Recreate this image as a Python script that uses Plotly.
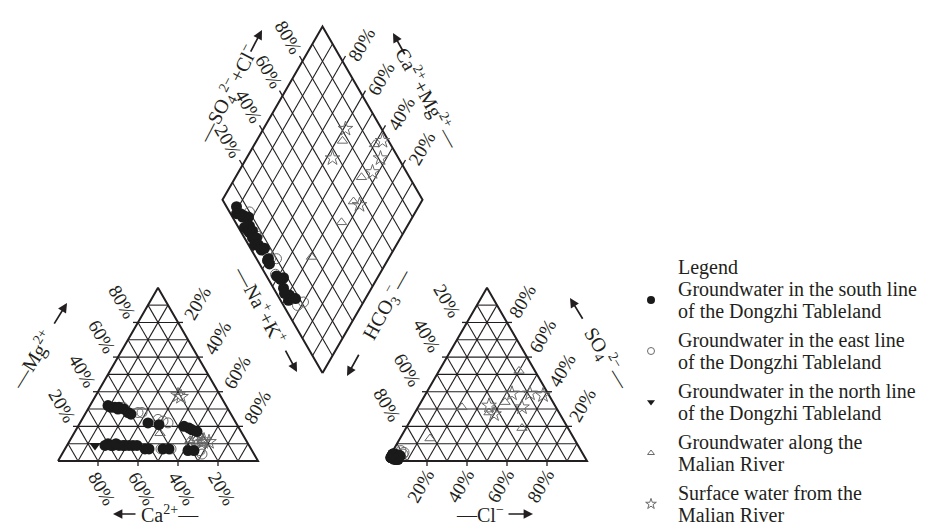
import math
import plotly.graph_objects as go

# ---------------- sample chemistry (meq %) ----------------
# Groundwater, south line of the Dongzhi Tableland
south_ca = [59, 58, 56, 55, 54, 52, 51, 50, 44, 39, 27, 25, 24, 22,
            72, 70, 69, 68, 66, 65, 63, 62, 60, 58, 56, 53, 51, 44, 41, 32, 29]
south_mg = [32, 31, 31, 30, 31, 30, 28, 27, 22, 21, 20, 19, 18, 17,
            9, 10, 9, 9, 10, 9, 9, 9, 9, 9, 9, 7, 7, 7, 7, 6, 6]
south_cl = [2, 1, 4, 3, 1, 5, 4, 1, 3, 2, 5, 3, 1, 5,
            1, 4, 1, 2, 5, 1, 3, 1, 4, 2, 5, 1, 3, 2, 4, 3, 5]
south_so4 = [3, 2, 1, 3, 4, 3, 2, 4, 2, 4, 3, 2, 3, 1,
             2, 1, 3, 2, 1, 3, 3, 2, 1, 3, 2, 4, 2, 3, 2, 1, 3]

# Groundwater, east line of the Dongzhi Tableland
east_ca = [46, 44, 38, 36, 34, 45, 40, 26, 26, 52]
east_mg = [28, 28, 24, 23, 22, 7, 7, 6, 4, 31]
east_cl = [4, 3, 5, 4, 6, 3, 4, 5, 6, 4]
east_so4 = [3, 4, 2, 3, 4, 2, 3, 2, 5, 6]

# Groundwater, north line of the Dongzhi Tableland
north_ca = [77]
north_mg = [9]
north_cl = [2]
north_so4 = [2]

# Groundwater along the Malian River
river_gw_ca = [28, 41, 24, 22, 24, 30]
river_gw_mg = [12, 16, 13, 12, 10, 9]
river_gw_cl = [40, 58, 42, 37, 22, 15]
river_gw_so4 = [52, 19, 34, 28, 31, 13]

# Surface water from the Malian River
surface_ca = [21, 20, 25, 22, 21, 19]
surface_mg = [38, 37, 12, 11, 12, 11]
surface_cl = [43, 35, 59, 52, 52, 40]
surface_so4 = [39, 32, 38, 39, 31, 27]

tick_values = [20, 40, 60, 80]

# ---------------- Piper geometry ----------------
W, HGT = 933, 526
H = math.sqrt(3) / 2
GAP = 0.645                          # gap between the two base triangles
RIGHT_X0 = 1 + GAP                   # left corner of the anion triangle
DIA_BX, DIA_BY = 1 + GAP / 2, 0.44   # bottom corner of the diamond
INK = "#231f20"
FONT = "Liberation Serif, Times New Roman, serif"


def cation_xy(ca, mg):
    na = 100 - ca - mg
    return (na + mg / 2) / 100, mg / 100 * H


def anion_xy(cl, so4):
    return RIGHT_X0 + (cl + so4 / 2) / 100, so4 / 100 * H


def diamond_xy(camg, so4cl):
    return (DIA_BX + 0.5 * (so4cl - camg) / 100,
            DIA_BY + H * (camg + so4cl) / 100)


def project(ca, mg, cl, so4):
    cx, cy, ax, ay, dx, dy = [], [], [], [], [], []
    for a, m, c, s in zip(ca, mg, cl, so4):
        x, y = cation_xy(a, m); cx.append(x); cy.append(y)
        x, y = anion_xy(c, s); ax.append(x); ay.append(y)
        x, y = diamond_xy(a + m, c + s); dx.append(x); dy.append(y)
    return cx + [None] + ax + [None] + dx, cy + [None] + ay + [None] + dy


fig = go.Figure()

# ---------------- grid and frames ----------------
gx, gy = [], []   # thin grid
fx, fy = [], []   # frames
tx, ty = [], []   # tick marks


def seg(xs, ys, p, q):
    xs += [p[0], q[0], None]
    ys += [p[1], q[1], None]


for x0 in (0.0, RIGHT_X0):
    for i in range(1, 10):
        k = i / 10
        seg(gx, gy, (x0 + k / 2, k * H), (x0 + 1 - k / 2, k * H))
        seg(gx, gy, (x0 + k, 0), (x0 + k + (1 - k) / 2, (1 - k) * H))
        seg(gx, gy, (x0 + 1 - k, 0), (x0 + (1 - k) / 2, (1 - k) * H))
    fx += [x0, x0 + 1, x0 + 0.5, x0, None]
    fy += [0, 0, H, 0, None]
    for v in tick_values:
        k = v / 100
        t = 0.025
        seg(tx, ty, (x0 + k, 0), (x0 + k, -t))
        seg(tx, ty, (x0 + k / 2, k * H), (x0 + k / 2 - t, k * H))
        seg(tx, ty, (x0 + 1 - k / 2, k * H), (x0 + 1 - k / 2 + t, k * H))

for i in range(1, 10):
    k = i * 10
    seg(gx, gy, diamond_xy(k, 0), diamond_xy(k, 100))
    seg(gx, gy, diamond_xy(0, k), diamond_xy(100, k))
corners = [diamond_xy(0, 0), diamond_xy(100, 0), diamond_xy(100, 100),
           diamond_xy(0, 100), diamond_xy(0, 0)]
fx += [c[0] for c in corners] + [None]
fy += [c[1] for c in corners] + [None]
for v in tick_values:
    seg(tx, ty, diamond_xy(100, v), diamond_xy(103, v))
    seg(tx, ty, diamond_xy(v, 100), diamond_xy(v, 103))

fig.add_trace(go.Scatter(x=gx, y=gy, mode="lines", hoverinfo="skip",
                         line=dict(color=INK, width=1.1), showlegend=False))
fig.add_trace(go.Scatter(x=tx, y=ty, mode="lines", hoverinfo="skip",
                         line=dict(color=INK, width=1.3), showlegend=False))
fig.add_trace(go.Scatter(x=fx, y=fy, mode="lines", hoverinfo="skip",
                         line=dict(color=INK, width=2), showlegend=False))

# ---------------- samples ----------------
GREY = "#6a6a6a"
series = [
    ("Groundwater along the Malian River", river_gw_ca, river_gw_mg, river_gw_cl, river_gw_so4,
     dict(symbol="triangle-up-open", size=9, color=GREY, line=dict(width=1, color=GREY))),
    ("Surface water from the Malian River", surface_ca, surface_mg, surface_cl, surface_so4,
     dict(symbol="star-open", size=11, color=GREY, line=dict(width=1, color=GREY))),
    ("Groundwater in the east line", east_ca, east_mg, east_cl, east_so4,
     dict(symbol="circle-open", size=10, color=GREY, line=dict(width=1, color=GREY))),
    ("Groundwater in the south line", south_ca, south_mg, south_cl, south_so4,
     dict(symbol="circle", size=11, color="#1a1a1a", line=dict(width=0))),
    ("Groundwater in the north line", north_ca, north_mg, north_cl, north_so4,
     dict(symbol="triangle-down", size=10, color="#1a1a1a", line=dict(width=0))),
]
for name, ca, mg, cl, so4, mk in series:
    xs, ys = project(ca, mg, cl, so4)
    fig.add_trace(go.Scatter(x=xs, y=ys, mode="markers", name=name,
                             marker=mk, showlegend=False))

# ---------------- tick labels ----------------
ann = []


def label(x, y, text, dx, dy, angle, size=19):
    ann.append(dict(x=x, y=y, xref="x", yref="y", text=text, showarrow=False,
                    xshift=dx, yshift=-dy, textangle=angle,
                    font=dict(family=FONT, size=size, color=INK)))


for v in tick_values:
    k = v / 100
    t = f"{v}%"
    # cation triangle
    label(1 - k, 0, t, 4, 27, 60)                       # Ca2+
    label(k / 2, k * H, t, -16, -21, 60)                # Mg2+
    label(0.5 + k / 2, (1 - k) * H, t, 19, -19, -60)    # Na+ + K+
    # anion triangle
    label(RIGHT_X0 + k, 0, t, -7, 25, -60)              # Cl-
    label(RIGHT_X0 + (1 - k) / 2, (1 - k) * H, t, -20, -22, 60)  # HCO3-
    label(RIGHT_X0 + 1 - k / 2, k * H, t, 15, -21, -60)  # SO4 2-
    # diamond
    x, y = diamond_xy(100, v)
    label(x, y, t, -14, -24, 60)                        # SO4 + Cl
    x, y = diamond_xy(v, 100)
    label(x, y, t, 19, -17, -60)                        # Ca + Mg


# ---------------- axis titles with arrows ----------------
def to_paper(px, py):
    return px / W, 1 - py / HGT


def title(start, end, text, arrow_at_end, size=20, arrow_len=26):
    (sx, sy), (ex, ey) = start, end
    length = math.hypot(ex - sx, ey - sy)
    ux, uy = (ex - sx) / length, (ey - sy) / length
    if arrow_at_end:
        tip = (ex, ey)
        tail = (ex - arrow_len * ux, ey - arrow_len * uy)
        t0, t1 = (sx, sy), (ex - (arrow_len + 3) * ux, ey - (arrow_len + 3) * uy)
    else:
        tip = (sx, sy)
        tail = (sx + arrow_len * ux, sy + arrow_len * uy)
        t0, t1 = (sx + (arrow_len + 3) * ux, sy + (arrow_len + 3) * uy), (ex, ey)
    cx, cy = to_paper((t0[0] + t1[0]) / 2, (t0[1] + t1[1]) / 2)
    ang = math.degrees(math.atan2(uy, ux))
    ann.append(dict(x=cx, y=cy, xref="paper", yref="paper", text=text,
                    showarrow=False, textangle=ang, xanchor="center",
                    yanchor="middle", font=dict(family=FONT, size=size, color=INK)))
    px_, py_ = to_paper(*tip)
    ann.append(dict(x=px_, y=py_, xref="paper", yref="paper", text="",
                    showarrow=True, ax=tail[0] - tip[0], ay=tail[1] - tip[1],
                    arrowhead=2, arrowsize=1.1, arrowwidth=1.7,
                    arrowcolor=INK, standoff=0, startstandoff=0))


title((208, 133), (262, 30), "—SO<sub>4</sub><sup>2−</sup>+Cl<sup>−</sup>", True)
title((393, 33), (450, 136), "Ca<sup>2+</sup>+Mg<sup>2+</sup>—", False)
title((238, 262), (297, 372), "—Na<sup>+</sup>+K<sup>+</sup>", True)
title((347, 376), (413, 257), "HCO<sub>3</sub><sup>−</sup>—", False)
title((12, 392), (67, 303), "—Mg<sup>2+</sup>", True)
title((113, 514), (200, 514), "Ca<sup>2+</sup>—", False, arrow_len=24)
title((455, 514), (533, 514), "—Cl<sup>−</sup>", True, arrow_len=26)
title((570, 298), (628, 393), "SO<sub>4</sub><sup>2−</sup>—", False)

# ---------------- legend ----------------
legend_items = [
    ("Groundwater in the south line", "of the Dongzhi Tableland"),
    ("Groundwater in the east line", "of the Dongzhi Tableland"),
    ("Groundwater in the north line", "of the Dongzhi Tableland"),
    ("Groundwater along the", "Malian River"),
    ("Surface water from the", "Malian River"),
]
legend_marks = [series[3][5], series[2][5], series[4][5], series[0][5], series[1][5]]


def ltext(px, py, text, size=20):
    x, y = to_paper(px, py)
    ann.append(dict(x=x, y=y, xref="paper", yref="paper",
                    text=text, showarrow=False, xanchor="left", yanchor="middle",
                    font=dict(family=FONT, size=size, color=INK)))


ltext(676, 267, "Legend")
for i, ((l1, l2), mk) in enumerate(zip(legend_items, legend_marks)):
    y0 = 289 + i * 51
    ltext(676, y0, l1)
    ltext(676, y0 + 22, l2)
    m = dict(mk)
    m["size"] = max(6, mk["size"] - 3)
    fig.add_trace(go.Scatter(x=[(651 - 58) / 200], y=[(461 - (y0 + 11)) / 200],
                             mode="markers", marker=m, showlegend=False,
                             hoverinfo="skip"))

fig.update_layout(
    width=W, height=HGT,
    margin=dict(l=0, r=0, t=0, b=0),
    paper_bgcolor="white", plot_bgcolor="white",
    annotations=ann,
    xaxis=dict(range=[-58 / 200, (W - 58) / 200], visible=False, fixedrange=True),
    yaxis=dict(range=[(461 - HGT) / 200, 461 / 200], visible=False, fixedrange=True),
)

fig.write_html("out.html")
